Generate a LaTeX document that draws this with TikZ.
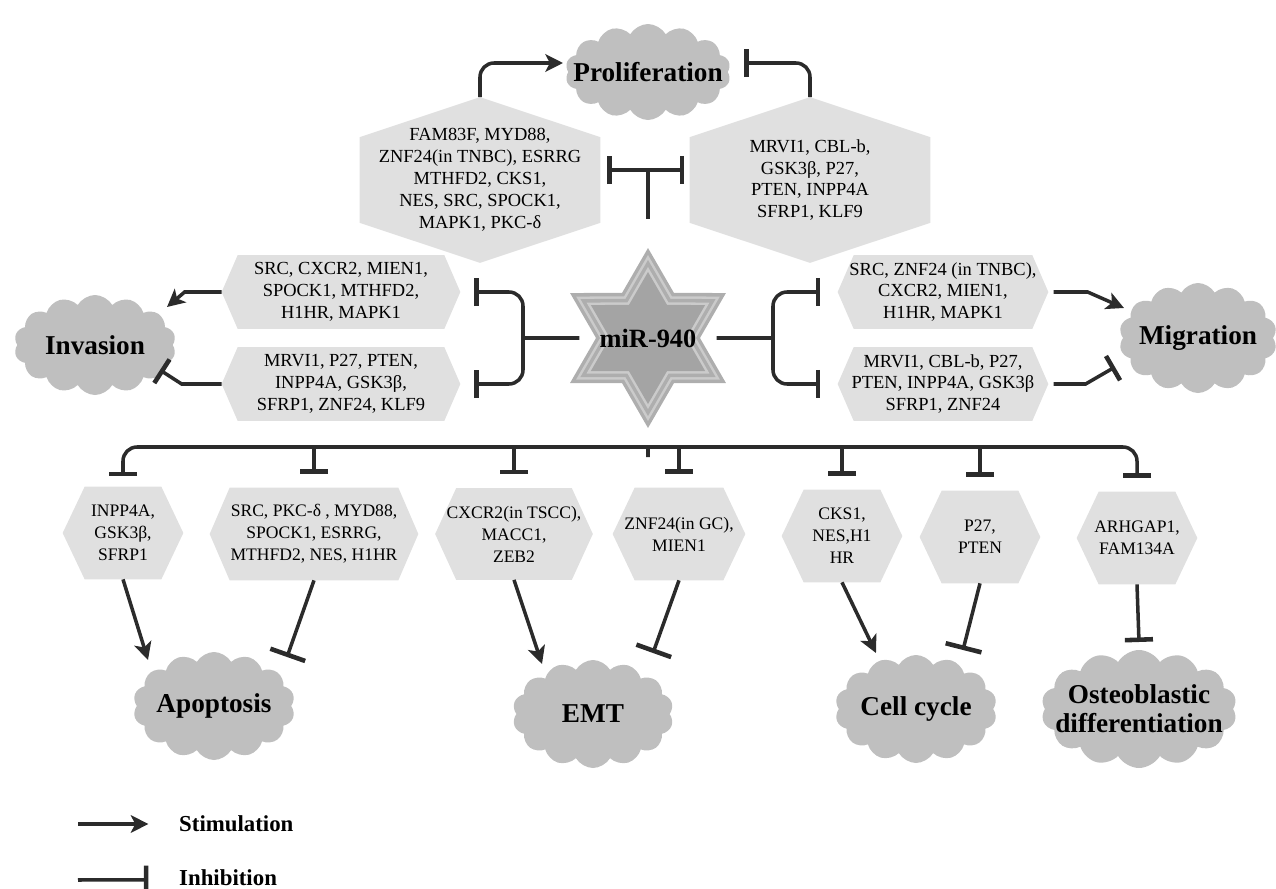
\documentclass[tikz,border=0pt]{standalone}
\usepackage{fontspec}
\setmainfont{Liberation Serif}
\usetikzlibrary{shapes,arrows.meta,positioning,backgrounds,calc}

\newcommand{\pxu}{0.02cm}
\definecolor{cloudgray}{HTML}{BFBFBF}
\definecolor{hexgray}{HTML}{E0E0E0}
\definecolor{linegray}{HTML}{2B2B2B}
\definecolor{starA}{HTML}{AEAEAE}
\definecolor{starB}{HTML}{CBCBCB}
\definecolor{starC}{HTML}{A4A4A4}

\tikzset{
  Process/.style = {cloud, cloud puffs=14, cloud puff arc=120, cloud ignores aspect,
    fill=cloudgray, draw=none, inner sep=-8pt, align=center,
    font=\fontsize{15.5}{16.5}\selectfont\bfseries},
  Target/.style  = {align=center, inner sep=0pt, font=\fontsize{10.5}{12.5}\selectfont},
  Small/.style   = {font=\fontsize{10}{12.5}\selectfont},
  Stim/.style    = {draw=linegray, line width=2pt, -{Stealth[length=10pt,width=10pt,inset=2.5pt]}},
  Inh/.style     = {draw=linegray, line width=2pt, -{Bar[width=16pt,line width=2.6pt]}},
  InhLong/.style = {Inh, -{Bar[width=21pt,line width=2.6pt]}},
  Wire/.style    = {draw=linegray, line width=2pt},
}

\begin{document}
\begin{tikzpicture}[x=0.02cm, y=-0.02cm]
  \useasboundingbox (0,0) rectangle (1276,889);

  % processes
  \node[Process, minimum width=165*\pxu, minimum height=96*\pxu]  (pro) at (648,72)   {Proliferation};
  \node[Process, minimum width=162*\pxu, minimum height=100*\pxu] (inv) at (95,345)   {Invasion};
  \node[Process, minimum width=158*\pxu, minimum height=110*\pxu] (mig) at (1198,338) {Migration};
  \node[Process, minimum width=162*\pxu, minimum height=108*\pxu] (apo) at (214,706)  {Apoptosis};
  \node[Process, minimum width=161*\pxu, minimum height=108*\pxu] (emt) at (593,714)  {EMT};
  \node[Process, minimum width=162*\pxu, minimum height=108*\pxu] (cyc) at (916,709)  {Cell cycle};
  \node[Process, minimum width=182*\pxu, minimum height=118*\pxu] (ost) at (1139,709) {Osteoblastic\\differentiation};

  % miRNA
  \node[star, star points=6, star point ratio=1.732, minimum size=180*\pxu, inner sep=0pt,
        font=\fontsize{15}{16}\selectfont\bfseries] (mir) at (648,338) {miR-940};

  % targets
  \node[Target, minimum width=240*\pxu, minimum height=165*\pxu] (proUp) at (480,180)
    {FAM83F, MYD88,\\ZNF24(in TNBC), ESRRG\\MTHFD2, CKS1,\\NES, SRC, SPOCK1,\\MAPK1, PKC-δ};
  \node[Target, minimum width=240*\pxu, minimum height=165*\pxu] (proDn) at (810,180)
    {MRVI1, CBL-b,\\GSK3β, P27,\\PTEN, INPP4A\\SFRP1, KLF9};
  \node[Target, minimum width=238*\pxu, minimum height=73*\pxu] (invUp) at (341,292)
    {SRC, CXCR2, MIEN1,\\SPOCK1, MTHFD2,\\H1HR, MAPK1};
  \node[Target, minimum width=238*\pxu, minimum height=73*\pxu] (invDn) at (341,384)
    {MRVI1, P27, PTEN,\\INPP4A, GSK3β,\\SFRP1, ZNF24, KLF9};
  \node[Target, minimum width=210*\pxu, minimum height=73*\pxu] (migUp) at (943,292)
    {SRC, ZNF24 (in TNBC),\\CXCR2, MIEN1,\\H1HR, MAPK1};
  \node[Target, minimum width=210*\pxu, minimum height=73*\pxu] (migDn) at (943,384)
    {MRVI1, CBL-b, P27,\\PTEN, INPP4A, GSK3β\\SFRP1, ZNF24};
  \node[Target, Small, minimum width=120*\pxu, minimum height=92*\pxu] (apoUp) at (123,533)
    {INPP4A,\\GSK3β,\\SFRP1};
  \node[Target, Small, minimum width=208*\pxu, minimum height=92*\pxu] (apoDn) at (314,534)
    {SRC, PKC-δ , MYD88,\\SPOCK1, ESRRG,\\MTHFD2, NES, H1HR};
  \node[Target, Small, minimum width=157*\pxu, minimum height=91*\pxu] (emtUp) at (514,534)
    {CXCR2(in TSCC),\\MACC1,\\ZEB2};
  \node[Target, Small, minimum width=132*\pxu, minimum height=92*\pxu] (emtDn) at (679,534)
    {ZNF24(in GC),\\MIEN1};
  \node[Target, Small, minimum width=120*\pxu, minimum height=92*\pxu] (cycUp) at (842,536)
    {CKS1,\\NES,H1\\HR};
  \node[Target, Small, minimum width=120*\pxu, minimum height=92*\pxu] (cycDn) at (980,537)
    {P27,\\PTEN};
  \node[Target, Small, minimum width=120*\pxu, minimum height=92*\pxu] (ostUp) at (1137,538)
    {ARHGAP1,\\FAM134A};

  % hexagon and star fills
  \begin{scope}[on background layer]
    \foreach \hx/\dx in {invUp/16, invDn/16, migUp/16, migDn/16, apoUp/22, apoDn/20,
                         emtUp/21, emtDn/22, cycUp/22, cycDn/22, ostUp/22}
      \fill[hexgray] (\hx.west) -- ($(\hx.north west)+(\dx,0)$) -- ($(\hx.north east)+(-\dx,0)$)
        -- (\hx.east) -- ($(\hx.south east)+(-\dx,0)$) -- ($(\hx.south west)+(\dx,0)$) -- cycle;
    \foreach \hx in {proUp, proDn}
      \fill[hexgray] (\hx.north) -- ($(\hx.north east)+(0,40)$) -- ($(\hx.south east)+(0,-40)$)
        -- (\hx.south) -- ($(\hx.south west)+(0,-40)$) -- ($(\hx.north west)+(0,40)$) -- cycle;
    \foreach \s/\c [count=\i] in {180/starA, 166/starB, 156/starA, 142/starB, 132/starC}
      \node[star, star points=6, star point ratio=1.732, minimum size=\s*\pxu,
            inner sep=0pt, fill=\c] (band\i) at (mir) {};
  \end{scope}

  % proliferation
  \coordinate (tee) at (648,170);
  \draw[Wire] (mir.north) -- (tee);
  \draw[Inh, shorten >=4pt] (tee) -- (tee -| proUp.east);
  \draw[Inh, shorten >=3pt] (tee) -- (tee -| proDn.west);
  \draw[Stim, rounded corners=8pt] (proUp.north) |- ([shift={(-85,-9)}]pro.center);
  \draw[Inh, rounded corners=8pt] (proDn.north) |- ([shift={(96,-9)}]pro.center);

  % invasion and migration
  \coordinate (lfork) at (523,338);
  \coordinate (rfork) at (773,338);
  \draw[Wire] (mir.west) -- (lfork);
  \draw[Wire] (mir.east) -- (rfork);
  \draw[Inh, rounded corners=8pt, shorten >=8pt] (lfork) |- (invUp.east);
  \draw[Inh, rounded corners=8pt, shorten >=8pt] (lfork) |- (invDn.east);
  \draw[Inh, rounded corners=8pt, shorten >=10pt] (rfork) |- (migUp.west);
  \draw[Inh, rounded corners=8pt, shorten >=10pt] (rfork) |- (migDn.west);
  \draw[Stim] (invUp.west) -- ++(-37,0) -- ([shift={(72,-38)}]inv.center);
  \draw[Inh] (invDn.west) -- ++(-40,0) -- ([shift={(65,25)}]inv.center);
  \draw[Stim] ([xshift=3pt]migUp.east) -- ++(34,0) -- ([shift={(-74,-30)}]mig.center);
  \draw[Inh] ([xshift=3pt]migDn.east) -- ++(32,0) -- ([shift={(-83,29)}]mig.center);

  % lower bus
  \coordinate (bus) at (648,447);
  \draw[Wire] (mir.south) -- (bus);
  \draw[Inh, rounded corners=8pt, shorten >=6pt] (bus) -| (apoUp.north);
  \draw[Inh, rounded corners=8pt, shorten >=8pt] (bus) -| (ostUp.north);
  \foreach \hx in {apoDn, emtUp, emtDn, cycUp, cycDn}
    \draw[Inh, shorten >=8pt] (bus) -| (\hx.north);

  \draw[Stim] (apoUp.south) -- ([shift={(-66,-46)}]apo.center);
  \draw[InhLong] (apoDn.south) -- ([shift={(73,-49)}]apo.center);
  \draw[Stim] (emtUp.south) -- ([shift={(-51,-50)}]emt.center);
  \draw[InhLong] (emtDn.south) -- ([shift={(60,-61)}]emt.center);
  \draw[Stim] (cycUp.south) -- ([shift={(-40,-56)}]cyc.center);
  \draw[InhLong] (cycDn.south) -- ([shift={(47,-59)}]cyc.center);
  \draw[Inh] (ostUp.south) -- ([shift={(0,-67)}]ost.center);

  % legend
  \node[anchor=west, font=\fontsize{13}{14}\selectfont\bfseries] (stimTxt) at (173,824) {Stimulation};
  \node[anchor=west, font=\fontsize{13}{14}\selectfont\bfseries] (inhTxt) at (173,878) {Inhibition};
  \coordinate (stimA) at (78,824);
  \coordinate (inhA) at (78,880);
  \draw[Stim] (stimA) -- ([xshift=-14pt]stimTxt.west);
  \draw[Inh] (inhA) -- ([xshift=-14pt,yshift=-1pt]inhTxt.west);
\end{tikzpicture}
\end{document}
